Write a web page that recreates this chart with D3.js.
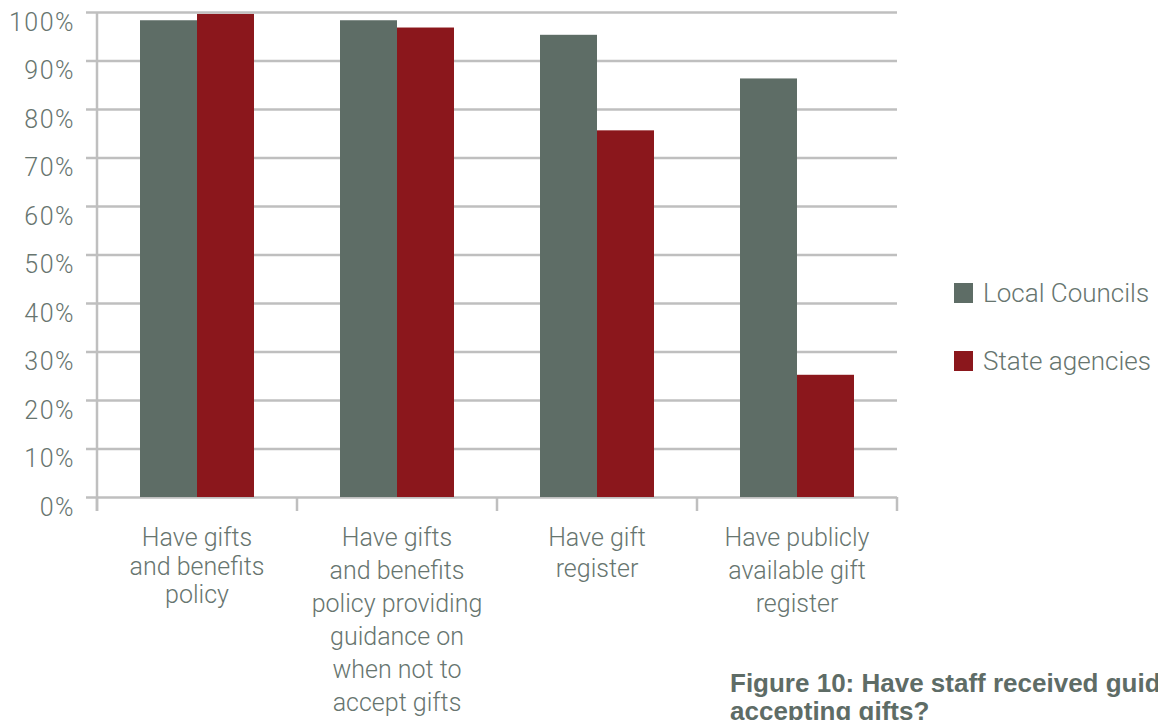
<!DOCTYPE html>
<html>
<head>
<meta charset="utf-8">
<script src="https://cdn.jsdelivr.net/npm/d3@7"></script>
<style>
  html, body { margin: 0; padding: 0; background: #ffffff; }
  svg { display: block; }
  .lbl { font-family: Roboto, "Liberation Sans", Arial, sans-serif; font-weight: 300; fill: #67756f; }
  .cap { font-family: "Liberation Sans", Arial, sans-serif; font-weight: 700; fill: #5e6c66; }
</style>
</head>
<body>
<svg id="chart" width="1158" height="720"></svg>
<script>
// Survey categories (each entry is a list of wrapped label lines)
const categories = [
  ["Have gifts", "and benefits", "policy"],
  ["Have gifts", "and benefits", "policy providing", "guidance on", "when not to", "accept gifts"],
  ["Have gift", "register"],
  ["Have publicly", "available gift", "register"]
];
const seriesNames = ["Local Councils", "State agencies"];
const localCouncils = [98.3, 98.3, 95.3, 86.3];
const stateAgencies = [99.6, 96.8, 75.6, 25.2];
const yTicks = [0, 10, 20, 30, 40, 50, 60, 70, 80, 90, 100];
const colors = ["#5e6d66", "#8b171c"];
const captionLines = ["Figure 10: Have staff received guidance on", "accepting gifts?"];

const rows = categories.map((c, i) => ({
  key: c.join(" "),
  lines: c,
  values: [localCouncils[i], stateAgencies[i]]
}));

const svg = d3.select("#chart");
const plotLeft = 97, plotRight = 897, plotTop = 12, plotBottom = 497;

const x0 = d3.scaleBand()
  .domain(rows.map(d => d.key))
  .range([plotLeft, plotRight])
  .paddingInner(0.43)
  .paddingOuter(0.215);

const x1 = d3.scaleBand()
  .domain(seriesNames)
  .range([0, x0.bandwidth()]);

const y = d3.scaleLinear().domain([0, 100]).range([plotBottom, plotTop]);

// Horizontal gridlines with percentage labels
const yAxis = svg.append("g")
  .attr("transform", `translate(${plotLeft - 11},0)`)
  .call(d3.axisLeft(y)
    .tickValues(yTicks)
    .tickFormat(d => d + "%")
    .tickSize(-(plotRight - plotLeft + 11))
    .tickPadding(11));
yAxis.select(".domain").remove();
yAxis.selectAll(".tick line")
  .attr("stroke", "#bfbfbf")
  .attr("stroke-width", 2.5);
yAxis.selectAll(".tick text")
  .attr("class", "lbl")
  .attr("font-size", 25)
  .attr("letter-spacing", 1.5)
  .attr("dy", 0)
  .attr("y", 18)
  .attr("fill", null);

// Vertical axis line
svg.append("line")
  .attr("x1", plotLeft).attr("x2", plotLeft)
  .attr("y1", y(100)).attr("y2", plotBottom + 14)
  .attr("stroke", "#bfbfbf")
  .attr("stroke-width", 2.5);

// Category boundary tick marks on the x axis
const step = x0.step();
const bounds = rows.map(d => x0(d.key) + x0.bandwidth() / 2 - step / 2);
bounds.push(x0(rows[rows.length - 1].key) + x0.bandwidth() / 2 + step / 2);
svg.append("g").selectAll("line")
  .data(bounds)
  .join("line")
  .attr("x1", d => d).attr("x2", d => d)
  .attr("y1", plotBottom).attr("y2", plotBottom + 14)
  .attr("stroke", "#bfbfbf")
  .attr("stroke-width", 2.5);

// Bars
const groups = svg.append("g").selectAll("g")
  .data(rows)
  .join("g")
  .attr("transform", d => `translate(${x0(d.key)},0)`);

groups.selectAll("rect")
  .data(d => d.values.map((v, i) => ({ name: seriesNames[i], value: v, i })))
  .join("rect")
  .attr("x", d => x1(d.name))
  .attr("y", d => y(d.value))
  .attr("width", x1.bandwidth())
  .attr("height", d => y(0) - y(d.value))
  .attr("fill", d => colors[d.i]);

// Category labels
const lineGap = [28.5, 33, 31, 33];
const catLabels = svg.append("g").selectAll("text")
  .data(rows)
  .join("text")
  .attr("class", "lbl")
  .attr("font-size", 25)
  .attr("text-anchor", "middle")
  .attr("x", d => x0(d.key) + x0.bandwidth() / 2)
  .attr("y", 546);
catLabels.each(function(d, i) {
  d3.select(this).selectAll("tspan")
    .data(d.lines)
    .join("tspan")
    .attr("x", x0(d.key) + x0.bandwidth() / 2)
    .attr("dy", (t, j) => j === 0 ? 0 : lineGap[i])
    .text(t => t);
});

// Legend
const legend = svg.append("g").selectAll("g")
  .data(seriesNames)
  .join("g")
  .attr("transform", (d, i) => `translate(954,${283 + i * 68})`);
legend.append("rect")
  .attr("width", 19).attr("height", 20)
  .attr("fill", (d, i) => colors[i]);
legend.append("text")
  .attr("class", "lbl")
  .attr("font-size", 26)
  .attr("x", 29)
  .attr("y", 19)
  .text(d => d);

// Figure caption (runs past the right edge of the page)
svg.append("text")
  .attr("class", "cap")
  .attr("font-size", 26)
  .attr("x", 730)
  .attr("y", 692)
  .selectAll("tspan")
  .data(captionLines)
  .join("tspan")
  .attr("x", 730)
  .attr("dy", (d, i) => i === 0 ? 0 : 28)
  .text(d => d);
</script>
</body>
</html>
